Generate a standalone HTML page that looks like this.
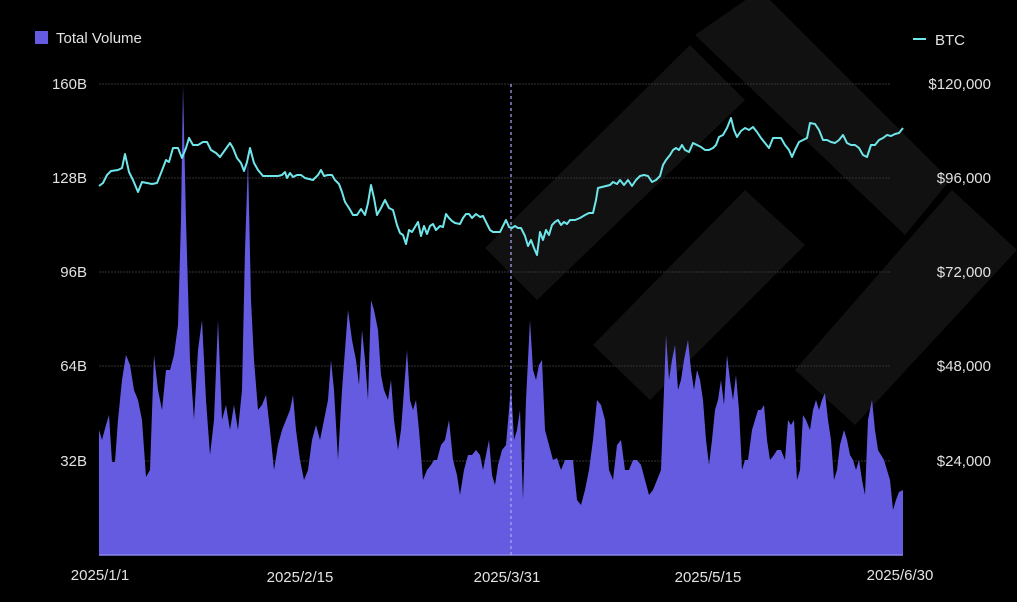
<!DOCTYPE html>
<html><head><meta charset="utf-8"><style>
html,body{margin:0;padding:0;background:#000;}
svg{display:block;}
text{font-family:"Liberation Sans",sans-serif;}
</style></head><body>
<svg width="1017" height="602" viewBox="0 0 1017 602" xmlns="http://www.w3.org/2000/svg">
<rect width="1017" height="602" fill="#000"/>
<g fill="#111">
<polygon points="695,35 760,-10 950,180 905,235"/>
<polygon points="485,248 690,45 745,100 537,300"/>
<polygon points="745,190 805,245 650,400 593,345"/>
<polygon points="952,190 1017,250 855,425 795,370"/>
</g>
<g stroke="#333" stroke-width="1" stroke-dasharray="2,1">
<line x1="99" y1="84" x2="890" y2="84"/>
<line x1="99" y1="178" x2="890" y2="178"/>
<line x1="99" y1="272" x2="890" y2="272"/>
<line x1="99" y1="366" x2="890" y2="366"/>
<line x1="99" y1="461" x2="890" y2="461"/>
</g>
<polygon fill="#655be0" points="99,555 99,430 102,440 106,425 109,415 112,462 115,462 118,420 122,380 126,355 130,365 134,390 138,400 142,420 146,477 150,470 154,355 158,390 162,410 166,370 170,370 174,355 178,325 181,220 183,85 186,220 190,360 194,420 198,350 202,320 206,400 210,455 214,420 218,320 222,420 226,405 230,430 234,405 238,430 242,390 245,250 248,160 251,300 254,360 258,410 262,405 266,395 270,430 274,470 278,445 282,430 286,420 290,410 293,395 296,430 300,460 304,480 308,470 312,440 316,425 320,440 324,420 328,400 331,360 334,390 338,460 342,390 345,350 348,310 352,340 356,360 359,385 362,330 365,360 368,400 371,300 374,310 378,330 381,375 384,390 388,400 391,380 394,420 398,450 401,430 404,390 407,350 410,400 413,410 416,400 419,430 423,480 427,470 431,465 434,460 437,460 441,445 445,440 449,420 453,460 457,475 460,495 464,470 468,455 472,455 476,450 480,455 483,470 486,455 489,440 492,475 495,485 498,465 502,450 506,445 509,410 511,385 514,440 517,430 520,410 523,500 526,400 530,320 533,370 536,380 539,365 542,360 545,430 549,445 553,460 557,458 561,470 565,460 569,460 573,460 577,500 581,505 585,490 589,470 593,440 597,400 601,405 605,420 609,470 613,480 617,445 621,440 625,470 629,470 633,460 637,460 641,465 645,480 649,495 653,490 657,480 661,470 664,390 666,335 669,380 672,360 675,345 678,390 681,380 684,360 688,340 691,370 694,390 697,370 700,380 703,400 706,440 709,465 712,440 715,410 718,400 721,380 724,405 727,355 730,380 733,400 736,375 739,410 742,470 745,460 748,460 752,430 755,420 758,410 761,410 764,405 767,440 770,460 774,455 777,450 781,450 785,460 788,420 791,425 794,420 797,480 800,470 803,415 806,420 810,430 813,410 816,400 819,410 822,400 825,393 828,420 831,440 834,480 837,470 840,445 844,430 847,440 850,455 853,460 856,470 859,460 862,480 865,495 868,420 872,400 875,430 878,450 881,455 884,460 887,470 890,480 893,510 896,500 899,492 903,490 903,555"/>
<line x1="99" y1="555" x2="903" y2="555" stroke="#8d86f0" stroke-width="1.5"/>
<line x1="511" y1="84" x2="511" y2="555" stroke="#b4a8ff" stroke-width="1.2" stroke-dasharray="3,3"/>
<polyline fill="none" stroke="#6fe6ea" stroke-width="2" stroke-linejoin="round" points="99,186 103,183 107,175 111,171 118,170 122,168 125,154 129,172 133,180 138,192 142,182 147,183 152,184 157,183 161,173 166,160 169,162 173,148 178,148 182,158 186,148 189,138 193,145 198,145 203,142 207,142 211,150 216,153 220,157 225,150 230,143 233,148 237,158 241,163 244,171 247,162 250,148 254,163 258,170 263,176 270,176 278,176 282,175 285,172 287,178 290,173 293,177 297,175 301,175 305,178 309,179 313,180 318,175 321,170 324,176 328,175 332,175 335,180 339,184 342,192 345,202 349,208 353,215 357,215 361,209 365,215 368,203 371,185 374,198 377,215 381,208 385,200 389,208 393,210 397,225 400,233 403,235 406,244 409,230 412,232 415,227 418,222 421,236 424,226 427,234 430,226 433,224 436,230 440,226 443,227 446,214 449,218 452,221 455,223 460,224 463,218 466,214 469,214 472,218 476,214 480,217 483,216 486,222 490,230 493,232 497,232 500,232 503,226 506,220 509,227 512,228 515,226 518,228 521,228 525,236 528,246 531,240 534,248 537,255 540,232 543,240 546,230 549,235 552,225 555,222 558,220 561,225 564,222 567,224 570,220 575,220 580,218 585,215 589,213 593,213 596,200 598,188 602,187 606,186 610,185 613,182 617,184 620,180 624,185 628,180 632,186 636,180 640,176 644,175 648,176 652,182 656,180 660,176 663,165 666,160 670,155 673,150 676,148 679,150 682,145 685,150 689,152 693,143 697,145 701,147 705,150 709,150 713,148 716,145 719,137 723,135 727,128 731,118 734,130 737,137 741,131 745,128 749,130 753,127 757,132 761,138 765,143 769,148 773,138 777,138 781,138 785,145 789,150 792,157 795,150 799,142 803,140 807,138 810,123 815,124 819,130 823,140 827,140 831,142 835,143 839,140 843,135 847,143 851,145 855,145 859,148 863,155 867,157 871,145 875,145 879,140 883,138 887,135 891,136 895,134 899,133 903,128"/>
<g fill="#e2e2e2" font-size="15">
<text x="87" y="89" text-anchor="end">160B</text>
<text x="87" y="183" text-anchor="end">128B</text>
<text x="87" y="277" text-anchor="end">96B</text>
<text x="87" y="371" text-anchor="end">64B</text>
<text x="87" y="466" text-anchor="end">32B</text>
<text x="991" y="89" text-anchor="end">$120,000</text>
<text x="991" y="183" text-anchor="end">$96,000</text>
<text x="991" y="277" text-anchor="end">$72,000</text>
<text x="991" y="371" text-anchor="end">$48,000</text>
<text x="991" y="466" text-anchor="end">$24,000</text>
<text x="100" y="580" text-anchor="middle">2025/1/1</text>
<text x="300" y="582" text-anchor="middle">2025/2/15</text>
<text x="507" y="582" text-anchor="middle">2025/3/31</text>
<text x="708" y="582" text-anchor="middle">2025/5/15</text>
<text x="900" y="580" text-anchor="middle">2025/6/30</text>
<rect x="35" y="31" width="13" height="13" fill="#655be0"/>
<text x="56" y="43">Total Volume</text>
<line x1="913" y1="39" x2="926" y2="39" stroke="#6fe6ea" stroke-width="2"/>
<text x="935" y="45">BTC</text>
</g>
</svg>
</body></html>
